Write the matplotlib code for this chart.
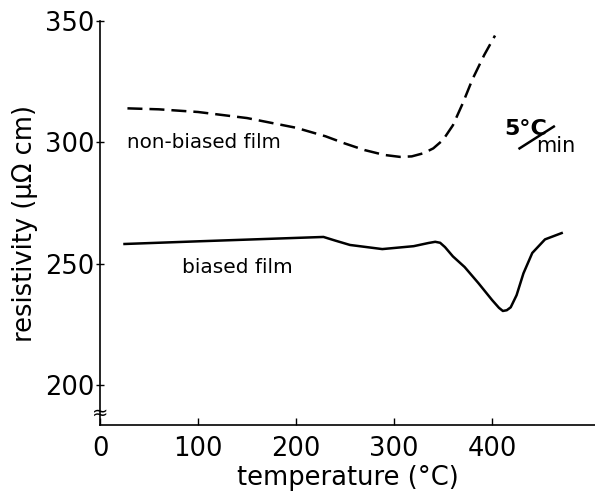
import matplotlib.pyplot as plt

# non-biased film (dashed)
nb_temp = [28, 60, 100, 150, 200, 230, 250, 270, 290, 306, 318, 330, 340, 350, 360, 370, 380, 392, 403]
nb_res = [314, 313.6, 312.5, 310, 306, 302.5, 299.5, 296.8, 294.8, 294, 294.2, 295.5, 297.5, 301, 307, 316, 326, 336, 344]

# biased film (solid)
b_temp = [25, 100, 228, 240, 255, 288, 320, 335, 342, 347, 352, 360, 372, 386, 400, 407, 411, 415, 419, 425, 432, 441, 454, 471]
b_res = [258.1, 259.2, 261, 259.5, 257.7, 256, 257.2, 258.5, 259, 258.6, 256.8, 253, 248.6, 242, 235, 231.8, 230.5, 230.8, 232, 237, 246, 254.4, 260, 262.6]

xticks = [0, 100, 200, 300, 400]
yticks = [200, 250, 300, 350]

fig = plt.figure(figsize=(5.95, 4.97), dpi=100)
ax = fig.add_axes([100 / 595, 1 - 425 / 497, 495 / 595, (425 - 21) / 497])

ax.plot(nb_temp, nb_res, color="black", lw=1.8, dashes=(6, 2.8))
ax.plot(b_temp, b_res, color="black", lw=1.8)

ax.set_xlim(0, 505)
ax.set_ylim(183.5, 350)
ax.set_xticks(xticks)
ax.set_yticks(yticks)
ax.tick_params(axis="x", direction="in", length=5, width=1, labelsize=18.5, pad=8)
ax.tick_params(axis="y", direction="inout", length=6, width=1, labelsize=18.5, pad=1)
for s in ["top", "right"]:
    ax.spines[s].set_visible(False)
for s in ["left", "bottom"]:
    ax.spines[s].set_linewidth(1.2)

ax.set_xlabel("temperature (°C)", fontsize=18.5, labelpad=2)
ax.set_ylabel("resistivity (μΩ cm)", fontsize=18.5, labelpad=5)

# labels on the curves
ax.text(28, 300, "non-biased film", fontsize=14.3, va="center")
ax.text(84, 248.6, "biased film", fontsize=14.5, va="center")
ax.text(412, 305.5, "5°C", fontsize=16, fontweight="bold", va="center")
ax.text(445, 298.5, "min", fontsize=15, va="center")
ax.plot([428, 463], [297.5, 306.5], color="black", lw=1.8)

# axis break mark
ax.text(0, 188.5, "≈", fontsize=14, ha="center", va="center", clip_on=False)

fig.savefig("out.png", dpi=100)
